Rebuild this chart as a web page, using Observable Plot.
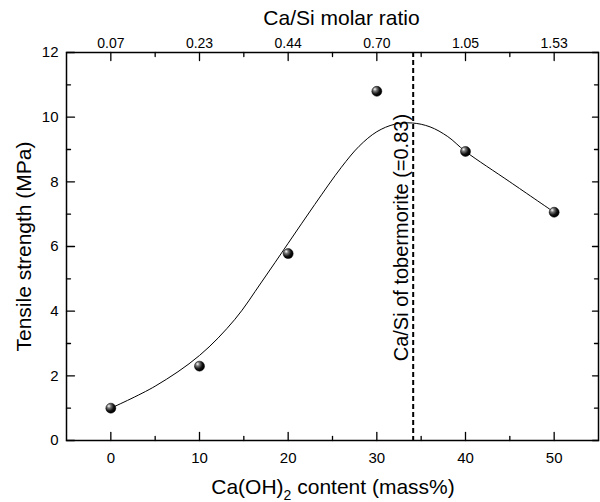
<!DOCTYPE html>
<html><head><meta charset="utf-8">
<script src="https://cdn.jsdelivr.net/npm/d3@7"></script>
<script src="https://cdn.jsdelivr.net/npm/@observablehq/plot@0.6"></script>
<style>body{margin:0;background:#fff} svg{font-family:"Liberation Sans",Arial,sans-serif}</style>
</head><body><div id="chart"></div>
<script>
const caohContent = [0, 10, 20, 30, 40, 50];
const tensileStrength = [1.0, 2.3, 5.78, 10.8, 8.94, 7.06];
const caSiRatioLabels = ["0.07", "0.23", "0.44", "0.70", "1.05", "1.53"];
const fitX = [0, 5, 10, 14, 17, 20, 23, 26, 28, 30, 32, 34, 36, 38, 40, 45, 50];
const fitY = [1.0, 1.68, 2.63, 3.75, 4.9, 6.1, 7.3, 8.45, 9.1, 9.55, 9.78, 9.82, 9.7, 9.4, 8.94, 8.0, 7.06];
const tobermoriteX = 34.1;
const tobermoriteLabel = "Ca/Si of tobermorite (=0.83)";
const xMajor = [0, 10, 20, 30, 40, 50];
const xMinor = [5, 15, 25, 35, 45];
const yMajor = [0, 2, 4, 6, 8, 10, 12];
const yMinor = [1, 3, 5, 7, 9, 11];
const topTitle = "Ca/Si molar ratio";
const leftTitle = "Tensile strength (MPa)";

const points = caohContent.map((x, i) => ({x, y: tensileStrength[i]}));
const fit = fitX.map((x, i) => ({x, y: fitY[i]}));

const tickShape = {draw(context, l) { context.moveTo(0, 0); context.lineTo(0, -l); }};
const xTicks = (data, side, len) => Plot.vector(data, {
  x: d => d, frameAnchor: side, length: len, rotate: side === "bottom" ? 0 : 180,
  anchor: "start", shape: tickShape, stroke: "black", strokeWidth: 1.3
});
const yTicks = (data, side, len) => Plot.vector(data, {
  y: d => d, frameAnchor: side, length: len, rotate: side === "left" ? 90 : -90,
  anchor: "start", shape: tickShape, stroke: "black", strokeWidth: 1.3
});

const chart = Plot.plot({
  width: 600, height: 502,
  marginLeft: 66, marginRight: 2, marginTop: 52, marginBottom: 62,
  x: {domain: [-5, 55]},
  y: {domain: [0, 12]},
  style: {fontFamily: '"Liberation Sans", Arial, sans-serif', fontSize: "15px", color: "black", background: "white"},
  marks: [
    xTicks(xMajor, "bottom", 8),
    xTicks(xMinor, "bottom", 4),
    xTicks(xMajor, "top", 8),
    xTicks(xMinor, "top", 4),
    yTicks(yMajor, "left", 8),
    yTicks(yMinor, "left", 4),
    yTicks(yMajor, "right", 6),
    yTicks(yMinor, "right", 4),
    Plot.axisX(xMajor, {anchor: "bottom", tickSize: 0, tickPadding: 12, label: null, fontSize: 15}),
    Plot.axisX(xMajor, {anchor: "top", tickSize: 0, tickPadding: 5, label: null, fontSize: 14,
      tickFormat: d => caSiRatioLabels[xMajor.indexOf(d)]}),
    Plot.axisY(yMajor, {anchor: "left", tickSize: 0, tickPadding: 8, label: null, fontSize: 15}),
    Plot.frame({stroke: "black", strokeWidth: 1.5}),
    Plot.ruleX([tobermoriteX], {stroke: "black", strokeWidth: 2, strokeDasharray: "5,3"}),
    Plot.line(fit, {x: "x", y: "y", curve: "catmull-rom", stroke: "black", strokeWidth: 1}),
    Plot.dot(points, {x: "x", y: "y", r: 5, fill: "url(#ball)", stroke: "black", strokeWidth: 0.5}),
    Plot.text([tobermoriteLabel], {x: tobermoriteX, y: 10.1, rotate: -90, textAnchor: "end", lineAnchor: "bottom", dx: -5, fontSize: 20}),
    Plot.text([topTitle], {frameAnchor: "top", dx: 9, dy: -34, lineAnchor: "middle", textAnchor: "middle", fontSize: 21}),
    Plot.text([leftTitle], {frameAnchor: "left", rotate: -90, dx: -42, lineAnchor: "middle", textAnchor: "middle", fontSize: 21})
  ]
});

const svg = d3.select(chart);
const defs = svg.insert("defs", ":first-child");
const grad = defs.append("radialGradient").attr("id", "ball")
  .attr("cx", "35%").attr("cy", "35%").attr("r", "65%").attr("fx", "30%").attr("fy", "28%");
grad.append("stop").attr("offset", "0%").attr("stop-color", "#ffffff");
grad.append("stop").attr("offset", "30%").attr("stop-color", "#777777");
grad.append("stop").attr("offset", "70%").attr("stop-color", "#111111");
grad.append("stop").attr("offset", "100%").attr("stop-color", "#000000");

const bt = svg.append("text").attr("x", 333).attr("y", 494).attr("text-anchor", "middle")
  .attr("font-size", 21).attr("fill", "black");
bt.append("tspan").text("Ca(OH)");
bt.append("tspan").attr("font-size", 14).attr("dy", 6).text("2");
bt.append("tspan").attr("dy", -6).text(" content (mass%)");

document.getElementById("chart").appendChild(chart);
</script>
</body></html>
